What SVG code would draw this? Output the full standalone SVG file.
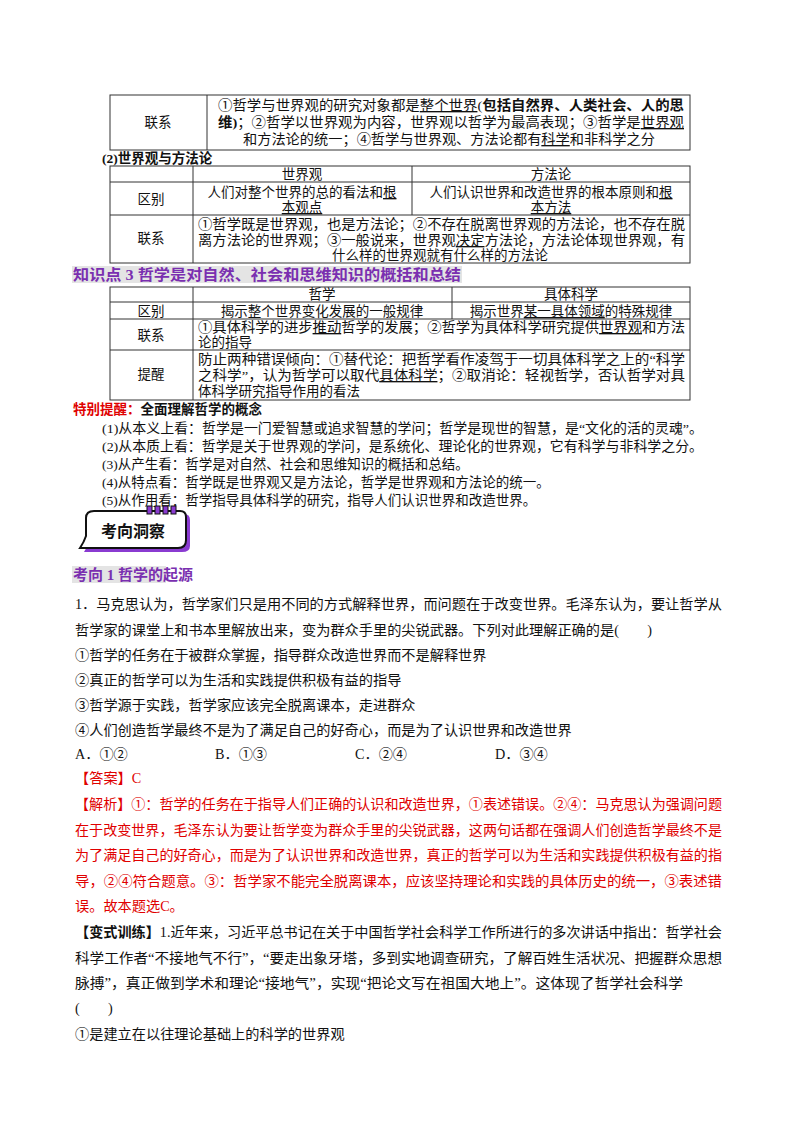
<svg xmlns="http://www.w3.org/2000/svg" width="800" height="1132" viewBox="0 0 800 1132">
<style>
text{font-family:"Liberation Serif","Noto Sans CJK SC",serif;fill:#111}
.t{font-size:13.5px}
.b{font-size:14.2px}
.c{text-anchor:middle}
.r{fill:#e00000}
.bold{font-weight:bold}
.ln{stroke:#333;stroke-width:1;fill:none}
.u{text-decoration:underline}
.h{font-weight:bold;fill:#7a2fb0;font-size:15px}
</style>
<rect width="800" height="1132" fill="#fff"/>
<g id="table1">
<rect class="ln" x="110" y="95" width="580" height="55"/>
<line class="ln" x1="207" y1="95" x2="207" y2="150"/>
<text class="t c" x="158" y="127">联系</text>
<text class="t" x="218" y="110" textLength="466" lengthAdjust="spacingAndGlyphs">①哲学与世界观的研究对象都是<tspan class="u">整个世界</tspan>(<tspan class="bold">包括自然界、人类社会、人的思</tspan></text>
<text class="t" x="218" y="127" textLength="466" lengthAdjust="spacingAndGlyphs"><tspan class="bold">维)</tspan>；②哲学以世界观为内容，世界观以哲学为最高表现；③哲学是<tspan class="u">世界观</tspan></text>
<text class="t" x="243" y="144" textLength="412" lengthAdjust="spacingAndGlyphs">和方法论的统一；④哲学与世界观、方法论都有<tspan class="u">科学</tspan>和非科学之分</text>
</g>
<text id="s2" class="t bold" x="102" y="163">(2)世界观与方法论</text>
<g id="table2">
<rect class="ln" x="110" y="166" width="580" height="97"/>
<line class="ln" x1="110" y1="182" x2="690" y2="182"/>
<line class="ln" x1="110" y1="215" x2="690" y2="215"/>
<line class="ln" x1="193" y1="166" x2="193" y2="263"/>
<line class="ln" x1="412" y1="166" x2="412" y2="215"/>
<text class="t c" x="302" y="179">世界观</text>
<text class="t c" x="551" y="179">方法论</text>
<text class="t c" x="151" y="204">区别</text>
<text class="t c" x="302" y="197">人们对整个世界的总的看法和<tspan class="u">根</tspan></text>
<text class="t c" x="302" y="212"><tspan class="u">本观点</tspan></text>
<text class="t c" x="551" y="197">人们认识世界和改造世界的根本原则和<tspan class="u">根</tspan></text>
<text class="t c" x="551" y="212"><tspan class="u">本方法</tspan></text>
<text class="t c" x="151" y="243">联系</text>
<text class="t" x="198" y="229" textLength="487" lengthAdjust="spacingAndGlyphs">①哲学既是世界观，也是方法论；②不存在脱离世界观的方法论，也不存在脱</text>
<text class="t" x="198" y="245" textLength="487" lengthAdjust="spacingAndGlyphs">离方法论的世界观；③一般说来，世界观<tspan class="u">决定</tspan>方法论，方法论体现世界观，有</text>
<text class="t c" x="440" y="260">什么样的世界观就有什么样的方法论</text>
</g>
<g id="kp3">
<rect x="72" y="266" width="390" height="17" fill="#e4e4e4"/>
<text class="h" x="73" y="280" textLength="388" lengthAdjust="spacingAndGlyphs">知识点 3  哲学是对自然、社会和思维知识的概括和总结</text>
</g>
<g id="table3">
<rect class="ln" x="110" y="287" width="580" height="113"/>
<line class="ln" x1="110" y1="302" x2="690" y2="302"/>
<line class="ln" x1="110" y1="319" x2="690" y2="319"/>
<line class="ln" x1="110" y1="350" x2="690" y2="350"/>
<line class="ln" x1="193" y1="287" x2="193" y2="400"/>
<line class="ln" x1="452" y1="287" x2="452" y2="319"/>
<text class="t c" x="322" y="299">哲学</text>
<text class="t c" x="571" y="299">具体科学</text>
<text class="t c" x="151" y="316">区别</text>
<text class="t c" x="322" y="316">揭示整个世界变化发展的一般规律</text>
<text class="t c" x="571" y="316">揭示世界<tspan class="u">某一具体领域</tspan>的特殊规律</text>
<text class="t c" x="151" y="340">联系</text>
<text class="t" x="198" y="332" textLength="487" lengthAdjust="spacingAndGlyphs">①具体科学的进步<tspan class="u">推动</tspan>哲学的发展；②哲学为具体科学研究提供<tspan class="u">世界观</tspan>和方法</text>
<text class="t" x="198" y="347">论的指导</text>
<text class="t c" x="151" y="379">提醒</text>
<text class="t" x="198" y="364" textLength="487" lengthAdjust="spacingAndGlyphs">防止两种错误倾向：①替代论：把哲学看作凌驾于一切具体科学之上的“科学</text>
<text class="t" x="198" y="380" textLength="487" lengthAdjust="spacingAndGlyphs">之科学”，认为哲学可以取代<tspan class="u">具体科学</tspan>；②取消论：轻视哲学，否认哲学对具</text>
<text class="t" x="198" y="396">体科学研究指导作用的看法</text>
</g>
<g id="tips">
<text class="t bold" x="73" y="414"><tspan fill="#e00000">特别提醒：</tspan>全面理解哲学的概念</text>
<text class="t" x="102" y="433" textLength="601" lengthAdjust="spacingAndGlyphs">(1)从本义上看：哲学是一门爱智慧或追求智慧的学问；哲学是现世的智慧，是“文化的活的灵魂”。</text>
<text class="t" x="102" y="451" textLength="601" lengthAdjust="spacingAndGlyphs">(2)从本质上看：哲学是关于世界观的学问，是系统化、理论化的世界观，它有科学与非科学之分。</text>
<text class="t" x="102" y="469">(3)从产生看：哲学是对自然、社会和思维知识的概括和总结。</text>
<text class="t" x="102" y="487">(4)从特点看：哲学既是世界观又是方法论，哲学是世界观和方法论的统一。</text>
<text class="t" x="102" y="505">(5)从作用看：哲学指导具体科学的研究，指导人们认识世界和改造世界。</text>
</g>
<g id="badge">
<path d="M90 522 Q90 514 98 514 L184 514 Q190 514 190 520 L190 546 Q190 552 182 552 L84 552 Q88 546 90 540 Z" fill="#8a3bd1"/>
<path d="M86 518 Q86 511 94 511 L180 511 Q186 511 186 517 L186 540 Q186 548 178 548 L80 548 Q84 542 86 536 Z" fill="#fff" stroke="#111" stroke-width="2"/>
<g fill="#8a3bd1" stroke="#111" stroke-width="1"><rect x="147" y="506" width="5" height="8"/><rect x="155" y="506" width="5" height="8"/><rect x="163" y="506" width="5" height="8"/><rect x="171" y="506" width="5" height="8"/></g>
<text x="133" y="537" class="c bold" style="font-size:16px">考向洞察</text>
</g>
<g id="kx1">
<rect x="72" y="566" width="94" height="17" fill="#e4e4e4"/>
<text class="h" x="73" y="580">考向 1  哲学的起源</text>
</g>
<g id="q1">
<text class="b" x="75" y="609" textLength="647" lengthAdjust="spacingAndGlyphs">1．马克思认为，哲学家们只是用不同的方式解释世界，而问题在于改变世界。毛泽东认为，要让哲学从</text>
<text class="b" x="75" y="635">哲学家的课堂上和书本里解放出来，变为群众手里的尖锐武器。下列对此理解正确的是(　　)</text>
<text class="b" x="75" y="660">①哲学的任务在于被群众掌握，指导群众改造世界而不是解释世界</text>
<text class="b" x="75" y="685">②真正的哲学可以为生活和实践提供积极有益的指导</text>
<text class="b" x="75" y="710">③哲学源于实践，哲学家应该完全脱离课本，走进群众</text>
<text class="b" x="75" y="735">④人们创造哲学最终不是为了满足自己的好奇心，而是为了认识世界和改造世界</text>
<text class="b" x="75" y="759">A．①②</text>
<text class="b" x="215" y="759">B．①③</text>
<text class="b" x="355" y="759">C．②④</text>
<text class="b" x="495" y="759">D．③④</text>
</g>
<g id="ans">
<text class="b r" x="75" y="783">【答案】C</text>
<text class="b r" x="75" y="809" textLength="647" lengthAdjust="spacingAndGlyphs">【解析】①：哲学的任务在于指导人们正确的认识和改造世界，①表述错误。②④：马克思认为强调问题</text>
<text class="b r" x="75" y="835" textLength="647" lengthAdjust="spacingAndGlyphs">在于改变世界，毛泽东认为要让哲学变为群众手里的尖锐武器，这两句话都在强调人们创造哲学最终不是</text>
<text class="b r" x="75" y="860" textLength="647" lengthAdjust="spacingAndGlyphs">为了满足自己的好奇心，而是为了认识世界和改造世界，真正的哲学可以为生活和实践提供积极有益的指</text>
<text class="b r" x="75" y="886" textLength="647" lengthAdjust="spacingAndGlyphs">导，②④符合题意。③：哲学家不能完全脱离课本，应该坚持理论和实践的具体历史的统一，③表述错</text>
<text class="b r" x="75" y="911">误。故本题选C。</text>
</g>
<g id="q2">
<text class="b" x="75" y="937" textLength="647" lengthAdjust="spacingAndGlyphs"><tspan class="bold">【变式训练】</tspan>1.近年来，习近平总书记在关于中国哲学社会科学工作所进行的多次讲话中指出：哲学社会</text>
<text class="b" x="75" y="963" textLength="647" lengthAdjust="spacingAndGlyphs">科学工作者“不接地气不行”，“要走出象牙塔，多到实地调查研究，了解百姓生活状况、把握群众思想</text>
<text class="b" x="75" y="988" textLength="608" lengthAdjust="spacingAndGlyphs">脉搏”，真正做到学术和理论“接地气”，实现“把论文写在祖国大地上”。这体现了哲学社会科学</text>
<text class="b" x="75" y="1013">(　　)</text>
<text class="b" x="75" y="1039">①是建立在以往理论基础上的科学的世界观</text>
</g>
</svg>
